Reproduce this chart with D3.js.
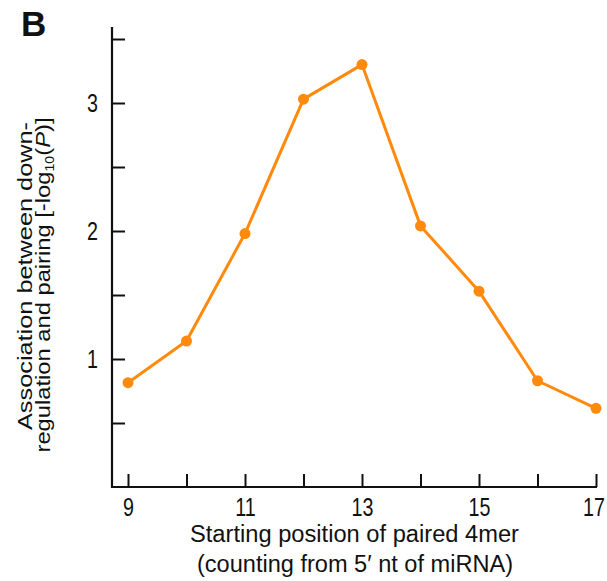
<!DOCTYPE html>
<html>
<head>
<meta charset="utf-8">
<script src="https://cdn.jsdelivr.net/npm/d3@7"></script>
<style>
  body { margin: 0; background: #fff; }
  text { font-family: "Liberation Sans", Arial, sans-serif; fill: #111; }
</style>
</head>
<body>
<div id="chart"></div>
<script>
// data
var positions = [9, 10, 11, 12, 13, 14, 15, 16, 17];
var association = [0.815, 1.14, 1.98, 3.03, 3.30, 2.04, 1.53, 0.83, 0.615];
var xTickLabels = [9, 11, 13, 15, 17];
var yTicks = [0.5, 1, 1.5, 2, 2.5, 3, 3.5];
var yTickLabels = [1, 2, 3];

var width = 607, height = 581;
var orange = "#ff8a0d";

var svg = d3.select("#chart")
  .append("svg")
    .attr("width", width)
    .attr("height", height);

// scales
var x = d3.scaleLinear()
  .domain([9, 17])
  .range([128, 596]);

var y = d3.scaleLinear()
  .domain([0, 3.5])
  .range([487, 39]);

// x axis, ticks pointing up into the plot
var xAxis = svg.append("g")
  .attr("transform", "translate(0," + y(0) + ")")
  .call(d3.axisBottom(x)
    .tickValues(positions)
    .tickSize(-13)
    .tickPadding(10)
    .tickFormat(function(d) { return xTickLabels.indexOf(d) >= 0 ? d : ""; }));
xAxis.select(".domain").remove();
xAxis.selectAll(".tick line").attr("stroke", "#111").attr("stroke-width", 2);
xAxis.selectAll(".tick text")
  .style("font-size", "24px")
  .attr("fill", "#111")
  .attr("transform", "scale(0.82,1.08)")
  .attr("dx", function(d) { return d === 17 ? -3 : 0; });

// y axis, ticks pointing right
var yAxis = svg.append("g")
  .attr("transform", "translate(112,0)")
  .call(d3.axisLeft(y)
    .tickValues(yTicks)
    .tickSize(-13)
    .tickPadding(17)
    .tickFormat(function(d) { return yTickLabels.indexOf(d) >= 0 ? d : ""; }));
yAxis.select(".domain").remove();
yAxis.selectAll(".tick line").attr("stroke", "#111").attr("stroke-width", 2);
yAxis.selectAll(".tick text")
  .style("font-size", "24px")
  .attr("fill", "#111")
  .attr("transform", "scale(0.82,1.08)");

// axis lines
svg.append("line")
  .attr("x1", 111).attr("x2", 597)
  .attr("y1", y(0)).attr("y2", y(0))
  .attr("stroke", "#111").attr("stroke-width", 2.2);
svg.append("line")
  .attr("x1", 112).attr("x2", 112)
  .attr("y1", 27).attr("y2", y(0) + 1)
  .attr("stroke", "#111").attr("stroke-width", 2.2);

// the line
var pts = positions.map(function(p, i) { return [p, association[i]]; });
svg.append("path")
  .datum(pts)
  .attr("fill", "none")
  .attr("stroke", orange)
  .attr("stroke-width", 3)
  .attr("stroke-linejoin", "round")
  .attr("d", d3.line()
    .x(function(d) { return x(d[0]); })
    .y(function(d) { return y(d[1]); }));

svg.selectAll(".dot")
  .data(pts)
  .enter().append("circle")
    .attr("class", "dot")
    .attr("cx", function(d) { return x(d[0]); })
    .attr("cy", function(d) { return y(d[1]); })
    .attr("r", 5.5)
    .attr("fill", orange);

// x axis title
svg.append("text")
  .attr("x", 354.5).attr("y", 542)
  .attr("text-anchor", "middle")
  .attr("textLength", 329).attr("lengthAdjust", "spacingAndGlyphs")
  .style("font-size", "23px")
  .text("Starting position of paired 4mer");
svg.append("text")
  .attr("x", 355).attr("y", 572)
  .attr("text-anchor", "middle")
  .attr("textLength", 316).attr("lengthAdjust", "spacingAndGlyphs")
  .style("font-size", "23px")
  .text("(counting from 5\u2032 nt of miRNA)");

// y axis title
svg.append("text")
  .attr("transform", "translate(32,276) rotate(-90)")
  .attr("text-anchor", "middle")
  .attr("textLength", 308).attr("lengthAdjust", "spacingAndGlyphs")
  .style("font-size", "20px")
  .text("Association between down-");

var yt2 = svg.append("text")
  .attr("transform", "translate(50,285) rotate(-90)")
  .attr("text-anchor", "middle")
  .attr("textLength", 335).attr("lengthAdjust", "spacingAndGlyphs")
  .style("font-size", "20px");
yt2.append("tspan").text("regulation and pairing [-log");
yt2.append("tspan").attr("dy", 4).style("font-size", "12px").text("10");
yt2.append("tspan").attr("dy", -4).text("(");
yt2.append("tspan").style("font-style", "italic").text("P");
yt2.append("tspan").text(")]");

// panel label
svg.append("text")
  .attr("x", 21).attr("y", 36)
  .style("font-size", "35px")
  .style("font-weight", "bold")
  .text("B");
</script>
</body>
</html>
